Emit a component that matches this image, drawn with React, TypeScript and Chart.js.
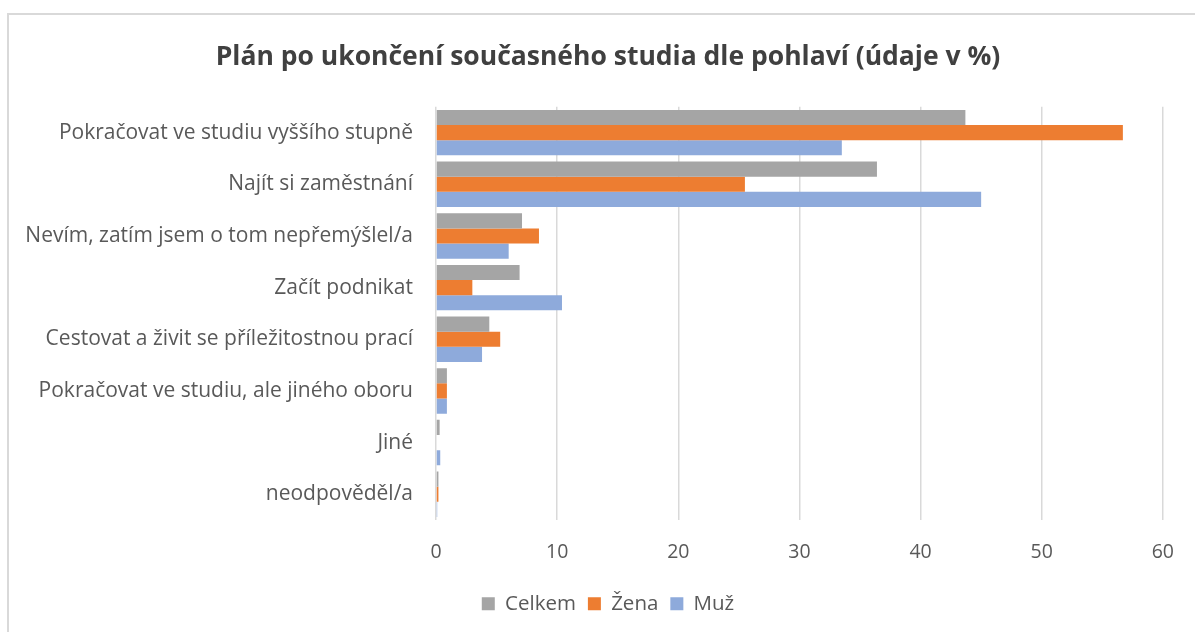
import React, { useEffect, useRef } from "react";
import { Chart, registerables } from "chart.js";

Chart.register(...registerables);

const categories = [
  "Pokračovat ve studiu vyššího stupně",
  "Najít si zaměstnání",
  "Nevím, zatím jsem o tom nepřemýšlel/a",
  "Začít podnikat",
  "Cestovat a živit se příležitostnou prací",
  "Pokračovat ve studiu, ale jiného oboru",
  "Jiné",
  "neodpověděl/a",
];

const celkem = [43.7, 36.4, 7.1, 6.9, 4.4, 0.9, 0.3, 0.2];
const zena = [56.7, 25.5, 8.5, 3.0, 5.3, 0.9, 0, 0.2];
const muz = [33.5, 45.0, 6.0, 10.4, 3.8, 0.9, 0.35, 0.1];

const xTicks = [0, 10, 20, 30, 40, 50, 60];

const FONT = "'Open Sans', 'Noto Sans', sans-serif";
const PAD_LEFT = 46;

const unclipLabels = {
  id: "unclipLabels",
  afterLayout(chart: any) {
    const y = chart.scales.y;
    if (y) y.left = 0;
  },
};

export default function App() {
  const ref = useRef<HTMLCanvasElement | null>(null);

  useEffect(() => {
    document.body.style.margin = "0";
    document.body.style.overflow = "hidden";
    const canvas = ref.current;
    if (!canvas) return;
    const chart = new Chart(canvas, {
      type: "bar",
      data: {
        labels: categories,
        datasets: [
          { label: "Celkem", data: celkem, backgroundColor: "#a5a5a5" },
          { label: "Žena", data: zena, backgroundColor: "#ed7d31" },
          { label: "Muž", data: muz, backgroundColor: "#8eaadb" },
        ],
      },
      options: {
        indexAxis: "y",
        animation: false,
        responsive: false,
        maintainAspectRatio: false,
        layout: { padding: { left: PAD_LEFT, right: 25, top: 0, bottom: 8 } },
        datasets: {
          bar: { barPercentage: 1, categoryPercentage: 0.88 },
        },
        scales: {
          x: {
            min: 0,
            max: 60,
            afterBuildTicks: (scale: any) => {
              scale.ticks = xTicks.map((v) => ({ value: v }));
            },
            afterFit: (scale: any) => {
              scale.height -= 4;
            },
            grid: { color: "#d9d9d9", lineWidth: 1.5, drawTicks: false },
            border: { display: false },
            ticks: {
              padding: 21,
              color: "#595959",
              font: { family: FONT, size: 19.5 },
            },
          },
          y: {
            grid: { display: false },
            border: { display: false },
            afterFit: (scale: any) => {
              scale.width = 436 - PAD_LEFT;
            },
            ticks: {
              padding: 15,
              color: "#595959",
              font: { family: FONT, size: 21 },
            },
          },
        },
        plugins: {
          title: {
            display: true,
            text: "Plán po ukončení současného studia dle pohlaví (údaje v %)",
            color: "#404040",
            font: { family: FONT, size: 26.5, weight: "bold" },
            padding: { top: 42, bottom: 33 },
          },
          legend: {
            position: "bottom",
            labels: {
              color: "#595959",
              font: { family: FONT, size: 20.5 },
              boxWidth: 13,
              boxHeight: 13,
              padding: 12,
            },
          },
          tooltip: { enabled: false },
        },
      },
      plugins: [unclipLabels],
    });
    return () => chart.destroy();
  }, []);

  return (
    <div style={{ position: "relative", width: 1195, height: 632, overflow: "hidden", background: "#fff" }}>
      <div
        style={{
          position: "absolute",
          left: 7,
          top: 13,
          width: 1300,
          height: 700,
          border: "2px solid #d9d9d9",
          boxSizing: "border-box",
        }}
      />
      <canvas ref={ref} width={1195} height={632} style={{ position: "absolute", left: 0, top: 0 }} />
    </div>
  );
}
